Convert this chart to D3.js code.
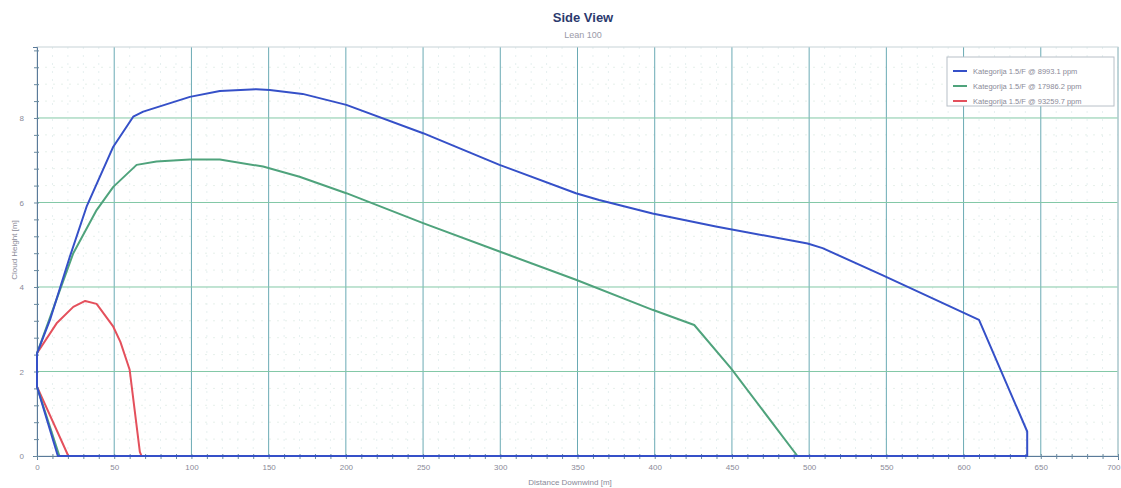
<!DOCTYPE html>
<html><head><meta charset="utf-8">
<script src="https://cdn.jsdelivr.net/npm/d3@7"></script>
<style>body{margin:0;background:#fff;} svg{display:block;font-family:"Liberation Sans",Arial,sans-serif;}</style>
</head><body><svg id="c" width="1121" height="488"></svg>
<script>
const seriesNames = ["Kategorija 1.5/F @ 8993.1 ppm","Kategorija 1.5/F @ 17986.2 ppm","Kategorija 1.5/F @ 93259.7 ppm"];
const seriesColors = ["#3550c8","#4fa37c","#e4505c"];
// contour points [distance, height]
const blueX = [0,8.4,21.3,32.1,49.4,62.3,68.8,99,118.4,142,150.7,172,200.3,250,299.5,349,364,398.6,439.6,499,508.7,547.4,610,641.2,641.2,13.5,0,0];
const blueY = [2.43,3.22,4.72,5.9,7.32,8.03,8.15,8.5,8.64,8.68,8.66,8.57,8.31,7.64,6.89,6.22,6.06,5.74,5.43,5.03,4.92,4.28,3.22,0.58,0,0,1.64,2.43];
const greenX = [0,23.5,38.6,49.4,64.5,77.4,99,118.4,146.4,170,200.3,250,299.5,349,398.6,425.6,449.3,492.4,14.5,0,0];
const greenY = [2.43,4.8,5.82,6.37,6.89,6.97,7.02,7.02,6.85,6.61,6.22,5.51,4.84,4.17,3.46,3.1,2.08,0,0,1.64,2.43];
const redX = [0,12.7,23.5,31.2,38.6,49.4,54,60,66.6,67.7,20.3,0,0];
const redY = [2.43,3.14,3.53,3.67,3.6,3.06,2.7,2.04,0.1,0,0,1.64,2.43];
const xTicks = [0,50,100,150,200,250,300,350,400,450,500,550,600,650,700];
const yTicks = [0,2,4,6,8];
const titleText = "Side View", subtitleText = "Lean 100";
const xLabel = "Distance Downwind [m]", yLabel = "Cloud Height [m]";

const svg = d3.select("#c");
const L=37,R=1118,T=47,B=456;
const x = d3.scaleLinear().domain([0,700]).range([L,R]);
const y = d3.scaleLinear().domain([0,9.68]).range([B,T]);

// minor grid
const g = svg.append("g");
g.selectAll(".mx").data(d3.range(10,700,10).filter(v=>v%50)).join("line")
 .attr("x1",d=>x(d)).attr("x2",d=>x(d)).attr("y1",T).attr("y2",B)
 .attr("stroke","#e6f0f0").attr("stroke-dasharray","2,6").attr("stroke-width",1);
g.selectAll(".my").data(d3.range(0.4,9.6,0.4).filter(v=>Math.abs(v/2-Math.round(v/2))>0.01)).join("line")
 .attr("y1",d=>y(d)).attr("y2",d=>y(d)).attr("x1",L).attr("x2",R)
 .attr("stroke","#e6f0ea").attr("stroke-dasharray","2,6").attr("stroke-width",1);
// major grid
g.selectAll(".vx").data(xTicks.slice(1)).join("line")
 .attr("x1",d=>x(d)).attr("x2",d=>x(d)).attr("y1",T).attr("y2",B)
 .attr("stroke","#6aaab4").attr("stroke-width",1);
g.selectAll(".hy").data(yTicks.slice(1)).join("line")
 .attr("y1",d=>y(d)).attr("y2",d=>y(d)).attr("x1",L).attr("x2",R)
 .attr("stroke","#82c8a6").attr("stroke-width",1);
// frame
svg.append("rect").attr("x",L).attr("y",T).attr("width",R-L).attr("height",B-T)
 .attr("fill","none").attr("stroke","#c8d4d8");

// axes
const xa = svg.append("g").attr("transform",`translate(0,${B})`)
 .call(d3.axisBottom(x).tickValues(d3.range(0,701,10)).tickSize(4).tickFormat(d=>xTicks.includes(d)?d:""));
xa.select(".domain").attr("stroke","#5a7a9a");
xa.selectAll(".tick line").attr("stroke","#6a8aa0").attr("y1",-2).attr("y2",3);
xa.selectAll(".tick text").attr("fill","#8a8a98").attr("font-size",8).attr("dy","0.9em")
 .filter(d=>d===700).attr("text-anchor","end").attr("dx","2");
const ya = svg.append("g").attr("transform",`translate(${L},0)`)
 .call(d3.axisLeft(y).tickValues(d3.range(0,9.61,0.4)).tickSize(4).tickFormat(d=>{const r=Math.round(d);return Math.abs(d-r)<0.01&&r%2===0?r:"";}));
ya.select(".domain").attr("stroke","#5a7a9a");
ya.selectAll(".tick line").attr("stroke","#6a8aa0").attr("x1",2).attr("x2",-3);
ya.selectAll(".tick text").attr("fill","#8a8a98").attr("font-size",8).attr("dx","-6");

// series
const data = [[blueX,blueY],[greenX,greenY],[redX,redY]];
const line = d3.line().x(d=>x(d[0])).y(d=>y(d[1]));
[2,1,0].forEach(i=>{
  const pts = data[i][0].map((v,k)=>[v,data[i][1][k]]);
  svg.append("path").attr("d",line(pts)).attr("fill","none")
   .attr("stroke",seriesColors[i]).attr("stroke-width",2).attr("stroke-linejoin","round");
});

// titles
svg.append("text").attr("x",583).attr("y",22).attr("text-anchor","middle")
 .attr("font-size",13).attr("font-weight","bold").attr("fill","#2c3a6e").text(titleText);
svg.append("text").attr("x",583).attr("y",38).attr("text-anchor","middle")
 .attr("font-size",9).attr("fill","#9a9aa8").text(subtitleText);
svg.append("text").attr("x",570).attr("y",485).attr("text-anchor","middle")
 .attr("font-size",8).attr("fill","#8a8a98").text(xLabel);
svg.append("text").attr("transform","translate(17,250) rotate(-90)").attr("text-anchor","middle")
 .attr("font-size",8).attr("fill","#8a8a98").text(yLabel);

// legend
const lg = svg.append("g");
lg.append("rect").attr("x",947).attr("y",57).attr("width",167).attr("height",49)
 .attr("fill","#fff").attr("stroke","#b8c0c8");
seriesNames.forEach((n,i)=>{
  const yy = 71 + i*15;
  lg.append("line").attr("x1",953).attr("x2",967).attr("y1",yy).attr("y2",yy)
   .attr("stroke",seriesColors[i]).attr("stroke-width",2);
  lg.append("text").attr("x",973).attr("y",yy+3).attr("font-size",7.5).attr("fill","#8a8a98").text(n);
});
</script></body></html>
